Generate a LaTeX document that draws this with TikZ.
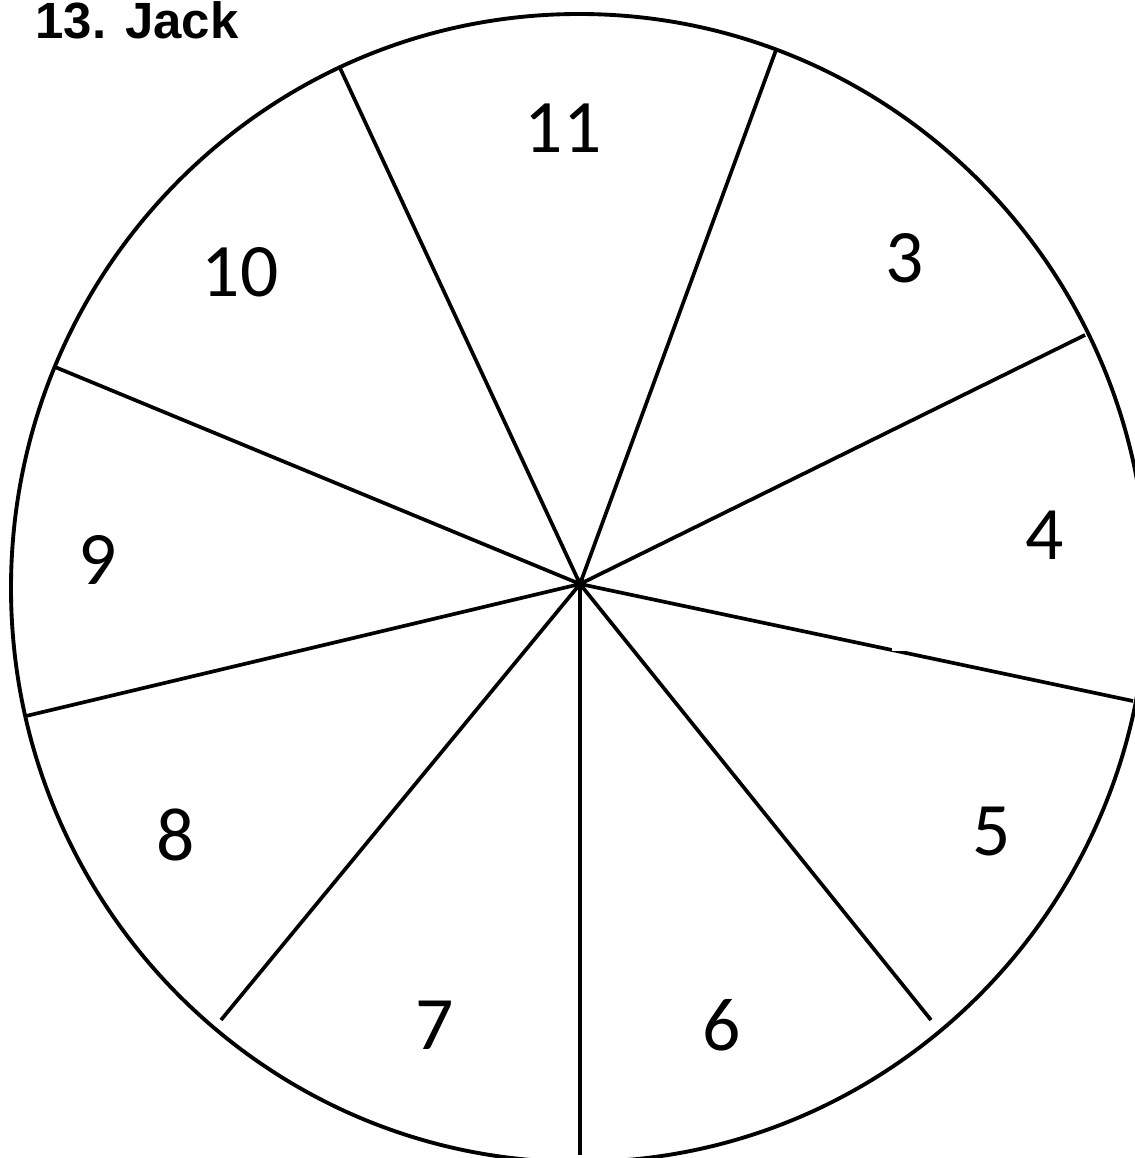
\documentclass[tikz,border=0pt]{standalone}
\usepackage{fontspec}
\setmainfont{Carlito}
\newfontfamily\titlefont{Liberation Sans}
\usetikzlibrary{calc}

\begin{document}
\begin{tikzpicture}[x=0.02cm,y=-0.02cm]
    \tikzset{
      rim/.style={draw, line width=2.2pt},
      spoke/.style={draw, line width=2.1pt},
      num/.style={font=\fontsize{43}{43}\selectfont, inner sep=0pt}
    }
    \useasboundingbox (0,0) rectangle (1134,1158);
    \node[font=\titlefont\bfseries\fontsize{29}{29}\selectfont, anchor=base west, inner sep=0pt]
      (title) at (35,39) {13. Jack};

    % wheel
    \draw[rim] (579,588) ellipse [x radius=568, y radius=574];
    \coordinate (hub) at (580,584);
    \foreach \x/\y [count=\i] in {340/68, 776/50, 1085/335, 1133/701, 931/1020,
                                  580/1155, 221/1020, 26/716, 55/367} {
      \coordinate (tip\i) at (\x,\y);
      \draw[spoke] (hub) -- (tip\i);
    }
    \fill (hub) circle (6);
    \fill[white] (892,640) rectangle (912,651.4);

    % sector numbers
    \node[num] (n11) at (563,128) {11};
    \node[num] (n3) at (905,258) {3};
    \node[num] (n10) at (240,272) {10};
    \node[num] (n4) at (1045,535) {4};
    \node[num] (n9) at (98,560) {9};
    \node[num] (n8) at (176,835) {8};
    \node[num] (n5) at (992,832) {5};
    \node[num] (n7) at (435,1025) {7};
    \node[num] (n6) at (722,1025) {6};
  \end{tikzpicture}
\end{document}
